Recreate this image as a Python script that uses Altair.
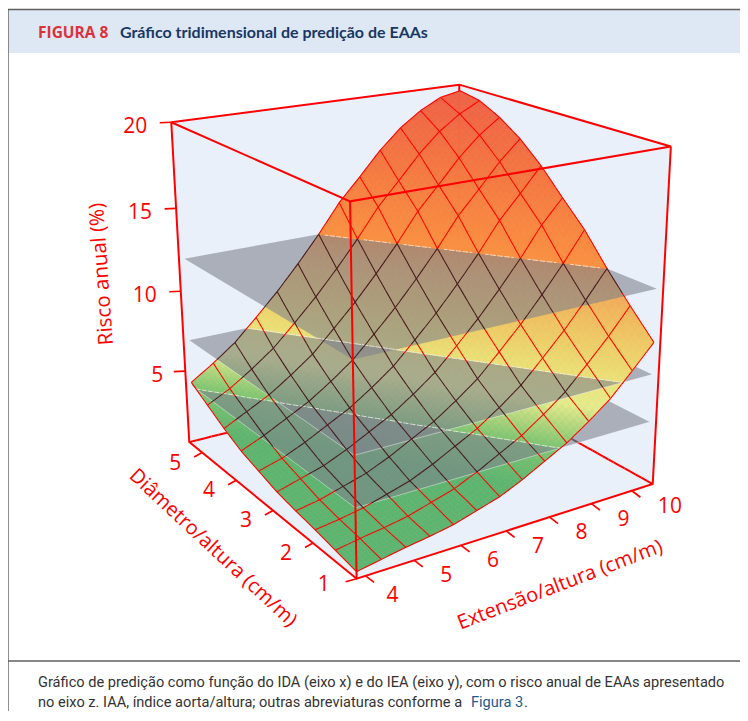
import numpy as np
import altair as alt

# Risk (%) at the mesh nodes: rows go along diameter/height, columns along extension/height
RISK = [
 [0.8,1.05,1.3,1.5,1.75,2.15,2.55,3.15,3.85,4.55,5.45,6.45,7.75,9.1],
 [1.05,1.3,1.5,1.75,2.15,2.55,3.15,3.85,4.55,5.45,6.45,7.75,9.1,10.6],
 [1.3,1.5,1.75,2.15,2.55,3.15,3.85,4.55,5.45,6.45,7.75,9.1,10.6,12.2],
 [1.5,1.75,2.15,2.55,3.15,3.85,4.55,5.45,6.45,7.75,9.1,10.6,12.2,13.95],
 [1.75,2.15,2.55,3.15,3.85,4.55,5.45,6.45,7.75,9.1,10.6,12.2,13.95,15.35],
 [2.15,2.55,3.15,3.85,4.55,5.45,6.45,7.75,9.1,10.6,12.2,13.95,15.35,16.8],
 [2.55,3.15,3.85,4.55,5.45,6.45,7.75,9.1,10.6,12.2,13.95,15.35,16.8,18.0],
 [3.15,3.85,4.55,5.45,6.45,7.75,9.1,10.6,12.2,13.95,15.35,16.8,18.0,18.9],
 [3.85,4.55,5.45,6.45,7.75,9.1,10.6,12.2,13.95,15.35,16.8,18.0,18.9,19.55],
 [4.55,5.45,6.45,7.75,9.1,10.6,12.2,13.95,15.35,16.8,18.0,18.9,19.55,19.8],
]
PLANE_LEVELS = [4.35, 7.2, 12.2]
Z_TICKS = [5, 10, 15, 20]
D_TICKS = [1, 2, 3, 4, 5]
E_TICKS = [4, 5, 6, 7, 8, 9, 10]
COLOR_Z = [0, 3, 4.4, 5.2, 6, 7.2, 9, 11, 12.2, 16, 20]
COLOR_HEX = ["#5eb46e", "#5eb46e", "#82c673", "#b4d77f", "#e6eb8c", "#ebe178", "#eec864", "#f0aa5a", "#fa9141", "#f47841", "#ee5f46"]
TITLE_TAG = "FIGURA 8"
TITLE = "Gráfico tridimensional de predição de EAAs"
CAPTION_1 = "Gráfico de predição como função do IDA (eixo x) e do IEA (eixo y), com o risco anual de EAAs apresentado"
CAPTION_2A = "no eixo z. IAA, índice aorta/altura; outras abreviaturas conforme a "
CAPTION_2B = "Figura 3"
CAPTION_2C = "."
AXIS_TITLES = ["Risco anual (%)", "Diâmetro/altura (cm/m)", "Extensão/altura (cm/m)"]

# camera: the eight box corners as seen on the page
BOX = [(0,0,0),(1,0,0),(0,1,0),(1,1,0),(0,0,1),(1,0,1),(0,1,1),(1,1,1)]
PAGE = [(356.5,581),(188,439),(651,482),(460,378),(351,202),(172,123),(672,146),(457,84)]
rows = []
for (a, b, c), (x, y) in zip(BOX, PAGE):
    rows.append([a,b,c,1,0,0,0,0,-x*a,-x*b,-x*c,-x])
    rows.append([0,0,0,0,a,b,c,1,-y*a,-y*b,-y*c,-y])
P = np.linalg.svd(np.array(rows, float))[2][-1].reshape(3, 4)

ZMIN, ZMAX = 0.4, 20.0
DMIN, DSPAN = 1.0, 4.4
EMIN, ESPAN = 3.82, 6.71
A1, B1 = 0.96, 0.976
Zg = np.array(RISK)
NI, NJ = Zg.shape

def cz(z): return (z - ZMIN) / (ZMAX - ZMIN)
def proj(a, b, z):
    v = P @ np.array([a, b, cz(z), 1.0])
    return [float(v[0] / v[2]), float(v[1] / v[2])]
def ab(i, j): return A1 * i / (NI - 1), B1 * j / (NJ - 1)
def zat(i, j):
    i0, j0 = min(int(i), NI - 2), min(int(j), NJ - 2)
    u, v = i - i0, j - j0
    return float(Zg[i0,j0]*(1-u)*(1-v) + Zg[i0+1,j0]*u*(1-v) + Zg[i0,j0+1]*(1-u)*v + Zg[i0+1,j0+1]*u*v)
def node(i, j):
    a, b = ab(i, j)
    return (a, b, zat(i, j))

def feat(kind, coords, **props):
    return {"type": "Feature", "geometry": {"type": kind, "coordinates": coords}, "properties": props}
def poly(pts, **props):
    return feat("Polygon", [list(pts) + [pts[0]]], **props)
def line(pts, **props):
    return feat("LineString", list(pts), **props)

def geo(features, by_z=False, **mark):
    enc = {}
    if by_z:
        sc = alt.Scale(domain=COLOR_Z, range=COLOR_HEX)
        enc["fill"] = alt.Fill("properties.z:Q", scale=sc, legend=None)
        enc["stroke"] = alt.Stroke("properties.z:Q", scale=sc, legend=None)
    return alt.Chart(alt.Data(values=features)).mark_geoshape(**mark).encode(**enc).project(type="identity", scale=1, translate=[-8, -8])

def clip(pts, level, keep_below):
    out = []
    n = len(pts)
    for k in range(n):
        p, q = pts[k], pts[(k + 1) % n]
        pin = p[2] <= level if keep_below else p[2] >= level
        qin = q[2] <= level if keep_below else q[2] >= level
        if pin: out.append(p)
        if pin != qin:
            t = (level - p[2]) / (q[2] - p[2])
            out.append(tuple(p[m] + t * (q[m] - p[m]) for m in range(3)))
    return out

plane_polys = []
for L in PLANE_LEVELS:
    plane_polys.append([proj(0,0,L), proj(A1,0,L), proj(A1,B1,L), proj(0,B1,L)])
def inside(pt, pg):
    s = 0
    for k in range(4):
        p, q = pg[k], pg[(k + 1) % 4]
        c = (q[0]-p[0])*(pt[1]-p[1]) - (q[1]-p[1])*(pt[0]-p[0])
        if c == 0: continue
        sg = 1 if c > 0 else -1
        if s == 0: s = sg
        elif s != sg: return False
    return True
RED, DARK = "#ff0000", "#46191b"
def covered(a, b, z):
    pt = proj(a, b, z)
    return any(z < L and inside(pt, pg) for L, pg in zip(PLANE_LEVELS, plane_polys))

SUB = 6
cells = []
for i in range(NI - 2, -1, -1):
    for j in range(NJ - 2, -1, -1):
        for su in range(SUB - 1, -1, -1):
            for sv in range(SUB - 1, -1, -1):
                ii, jj = i + su / SUB, j + sv / SUB
                d = 1 / SUB
                cells.append([node(ii, jj), node(ii + d, jj), node(ii + d, jj + d), node(ii, jj + d)])

levels = [-1e9] + PLANE_LEVELS + [1e9]
band_layers = []
for bi in range(len(levels) - 1):
    lo, hi = levels[bi], levels[bi + 1]
    fs = []
    for c in cells:
        zs = [p[2] for p in c]
        if max(zs) < lo or min(zs) > hi: continue
        pg = c
        if min(zs) < lo: pg = clip(pg, lo, False)
        if len(pg) and max(p[2] for p in pg) > hi: pg = clip(pg, hi, True)
        if len(pg) < 3: continue
        mz = sum(p[2] for p in pg) / len(pg)
        fs.append(poly([proj(*p) for p in pg], z=round(mz, 2)))
    band_layers.append(geo(fs, by_z=True, strokeWidth=0.7))
    if bi < len(PLANE_LEVELS):
        band_layers.append(geo([poly(plane_polys[bi])], color="#7e828d", fillOpacity=0.59, strokeWidth=0))
        if bi < 2:
            pg = plane_polys[bi]
            band_layers.append(geo([line([pg[1], pg[0], pg[3]])], filled=False, stroke="#ffffff", strokeWidth=0.8, opacity=0.55))

# intersection lines of the planes with the surface
contours = []
for L in PLANE_LEVELS:
    for c in cells:
        pts = []
        for k in range(4):
            p, q = c[k], c[(k + 1) % 4]
            if (p[2] - L) * (q[2] - L) < 0:
                t = (L - p[2]) / (q[2] - p[2])
                pts.append(proj(*[p[m] + t * (q[m] - p[m]) for m in range(3)]))
        if len(pts) == 2:
            contours.append(line(pts))

# mesh, split into the stretches that lie under a plane and those that do not
PIECES = 6
mesh_red, mesh_dark = [], []
def add_piece(p, q, red, dark):
    mid = [(p[m] + q[m]) / 2 for m in range(3)]
    (dark if covered(*mid) else red).append(line([proj(*p), proj(*q)]))
for i in range(NI):
    for j in range(NJ - 1):
        for s in range(PIECES):
            add_piece(node(i, j + s / PIECES), node(i, j + (s + 1) / PIECES), mesh_red, mesh_dark)
for j in range(NJ):
    for i in range(NI - 1):
        for s in range(PIECES):
            add_piece(node(i + s / PIECES, j), node(i + (s + 1) / PIECES, j), mesh_red, mesh_dark)

# box
back_red, back_dark = [], []
def edge_pieces(p, q, n=40):
    for s in range(n):
        u = [p[m] + (q[m] - p[m]) * s / n for m in range(3)]
        v = [p[m] + (q[m] - p[m]) * (s + 1) / n for m in range(3)]
        add_piece(u, v, back_red, back_dark)
hull = [proj(1,0,ZMAX), proj(1,1,ZMAX), proj(0,1,ZMAX), proj(0,1,ZMIN), proj(0,0,ZMIN), proj(1,0,ZMIN)]
edge_pieces((1,0,ZMIN),(1,1,ZMIN))
edge_pieces((0,1,ZMIN),(1,1,ZMIN))
back_red.append(line([proj(1,1,ZMIN), proj(1,1,ZMAX)]))
front = [
    [proj(1,0,ZMAX), proj(1,1,ZMAX), proj(0,1,ZMAX), proj(0,0,ZMAX), proj(1,0,ZMAX)],
    [proj(1,0,ZMAX), proj(1,0,ZMIN), proj(0,0,ZMIN), proj(0,1,ZMIN), proj(0,1,ZMAX)],
    [proj(0,0,ZMIN), proj(0,0,ZMAX)],
]
ticks, labels = [], []
for z in Z_TICKS:
    p = proj(1, 0, z)
    ticks.append([p, [p[0] - 11.5, p[1] + 0.5]])
    labels.append({"x": p[0] - (36 if z >= 10 else 28), "y": p[1] + 5, "t": str(z)})
for d in D_TICKS:
    p = proj((d - DMIN) / DSPAN, 0, ZMIN)
    ticks.append([p, [p[0] - 11 if d == 1 else p[0] - 8, p[1] + 3 if d == 1 else p[1] + 4.5]])
    labels.append({"x": p[0] - (33 if d == 1 else 27), "y": p[1] + (6 if d == 1 else 11), "t": str(d)})
for e in E_TICKS:
    p = proj(0, (e - EMIN) / ESPAN, ZMIN)
    ticks.append([p, [p[0] + 8.5, p[1] + 6.5]])
    labels.append({"x": p[0] + (38 if e == 10 else 27 if e == 4 else 32), "y": p[1] + (20 if e == 4 else 16), "t": str(e)})

def txt(values, **mark):
    return alt.Chart(alt.Data(values=values)).mark_text(**mark).encode(
        longitude="x:Q", latitude="y:Q", text="t:N").project(type="identity", scale=1, translate=[-8, -8])

AX_FONT = "Open Sans"
CAP = 14.6
layers = [
    geo([poly([[8,10],[748,10],[748,53],[8,53]])], color="#dde8f4", strokeWidth=0),
    geo([line([[8,9.5],[748,9.5]]), line([[8,9.5],[8,721]]), line([[8,661],[748,661]])], filled=False, stroke="#5f5f5f", strokeWidth=1.4),
    geo([poly(hull)], color="#e9f0f9", strokeWidth=0),
    geo(back_red, filled=False, stroke=RED, strokeWidth=2),
    geo(back_dark, filled=False, stroke=DARK, strokeWidth=2),
] + band_layers + [
    geo(contours, filled=False, stroke="#f4f1ea", strokeWidth=1, strokeDash=[3, 1.5], opacity=0.8),
    geo(mesh_red, filled=False, stroke=RED, strokeWidth=1.05),
    geo(mesh_dark, filled=False, stroke=DARK, strokeWidth=1.05),
    geo([line(l) for l in front], filled=False, stroke=RED, strokeWidth=2),
    geo([line(l) for l in ticks], filled=False, stroke=RED, strokeWidth=1.7),
    txt(labels, font=AX_FONT, fontSize=21, color=RED, align="center", baseline="middle"),
    txt([{"x": 102, "y": 274, "t": AXIS_TITLES[0]}], font=AX_FONT, fontSize=20.5, color=RED, align="center", baseline="middle", angle=266),
    txt([{"x": 213, "y": 548, "t": AXIS_TITLES[1]}], font=AX_FONT, fontSize=20, color=RED, align="center", baseline="middle", angle=43),
    txt([{"x": 560, "y": 585, "t": AXIS_TITLES[2]}], font=AX_FONT, fontSize=20, color=RED, align="center", baseline="middle", angle=339),
    txt([{"x": 38, "y": 33, "t": TITLE_TAG}], font="Open Sans", fontSize=15.5, fontWeight="bold", color="#dc323c", align="left", baseline="middle"),
    txt([{"x": 120, "y": 33, "t": TITLE}], font="Lato", fontSize=16, fontWeight="bold", color="#193764", align="left", baseline="middle"),
    txt([{"x": 38, "y": 683, "t": CAPTION_1}], font="Roboto", fontSize=CAP, color="#333333", align="left", baseline="middle"),
    txt([{"x": 38, "y": 703, "t": CAPTION_2A}], font="Roboto", fontSize=CAP, color="#333333", align="left", baseline="middle"),
    txt([{"x": 471, "y": 703, "t": CAPTION_2B}], font="Roboto", fontSize=CAP, color="#1d5a8c", align="left", baseline="middle"),
    txt([{"x": 524, "y": 703, "t": CAPTION_2C}], font="Roboto", fontSize=CAP, color="#333333", align="left", baseline="middle"),
]
chart = alt.layer(*layers).properties(width=732, height=703, padding=0, autosize=alt.AutoSizeParams(type="none"), background="#ffffff").configure_view(stroke=None)
chart.save("out.html", embed_options={"renderer": "svg", "actions": False})
